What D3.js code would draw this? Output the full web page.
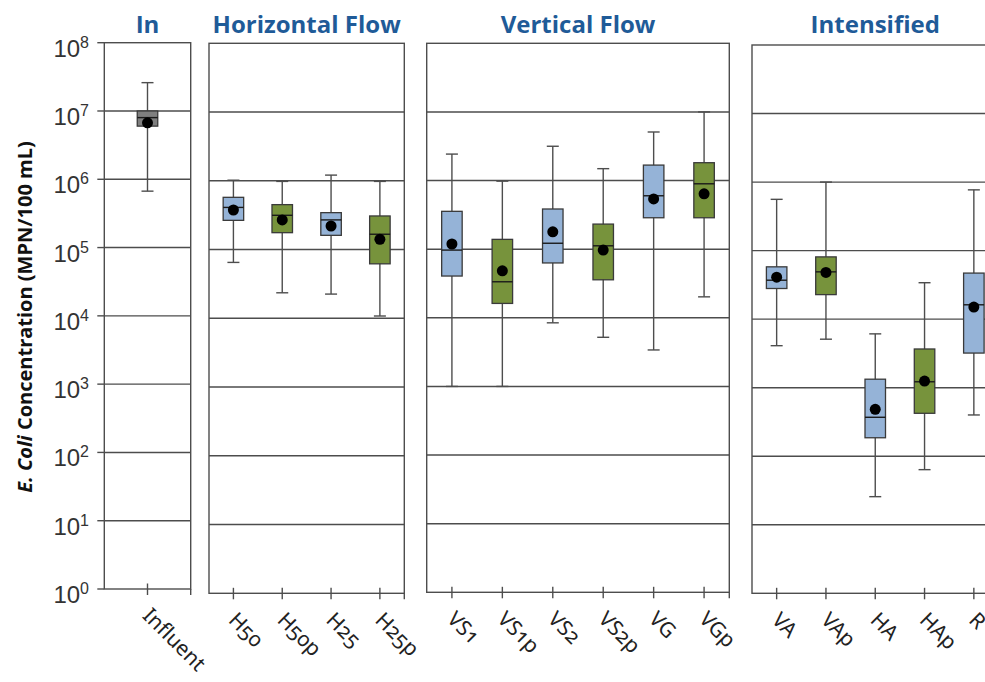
<!DOCTYPE html>
<html>
<head>
<meta charset="utf-8">
<script src="https://cdn.jsdelivr.net/npm/d3@7"></script>
<style>
  html, body { margin: 0; padding: 0; background: #fff; }
  svg { display: block; }
</style>
</head>
<body>
<svg id="chart" width="985" height="682"></svg>
<script>
// E. coli concentrations by treatment system (box = quartiles, whiskers = range, dot = mean)
const panelTitles = ["In", "Horizontal Flow", "Vertical Flow", "Intensified"];
const categories = ["Influent", "H50", "H50p", "H25", "H25p", "VS1", "VS1p", "VS2", "VS2p", "VG", "VGp", "VA", "VAp", "HA", "HAp", "R"];
const panelIndex = [0, 1, 1, 1, 1, 2, 2, 2, 2, 2, 2, 3, 3, 3, 3, 3];
const boxGroup = ["influent", "unplanted", "planted", "unplanted", "planted", "unplanted", "planted", "unplanted", "planted", "unplanted", "planted", "unplanted", "planted", "unplanted", "planted", "unplanted"];

const whiskerHigh = [2.6e7, 1.02e6, 9.8e5, 1.21e6, 9.8e5, 2.43e6, 9.8e5, 3.16e6, 1.49e6, 5.1e6, 1.0e7, 5.6e5, 1.0e6, 6.1e3, 3.4e4, 7.7e5];
const q3 = [1.0e7, 5.75e5, 4.5e5, 3.44e5, 3.08e5, 3.56e5, 1.39e5, 3.85e5, 2.32e5, 1.68e6, 1.82e6, 5.8e4, 8.1e4, 1.33e3, 3.67e3, 4.7e4];
const median = [8.0e6, 4.1e5, 3.15e5, 2.7e5, 1.67e5, 9.7e4, 3.35e4, 1.22e5, 1.12e5, 6.0e5, 8.97e5, 3.7e4, 4.9e4, 370, 1.22e3, 1.62e4];
const q1 = [6.0e6, 2.66e5, 1.76e5, 1.61e5, 6.2e4, 4.06e4, 1.62e4, 6.3e4, 3.58e4, 2.87e5, 2.87e5, 2.8e4, 2.28e4, 186, 423, 3.2e3];
const whiskerLow = [6.7e5, 6.5e4, 2.35e4, 2.25e4, 1.08e4, 1.0e3, 1.0e3, 8.45e3, 5.2e3, 3.4e3, 2.02e4, 4.1e3, 5.1e3, 25.7, 63.7, 400];
const mean = [6.7e6, 3.76e5, 2.7e5, 2.2e5, 1.41e5, 1.19e5, 4.84e4, 1.79e5, 9.7e4, 5.4e5, 6.4e5, 4.1e4, 4.8e4, 484, 1.25e3, 1.5e4];

const yExponents = [0, 1, 2, 3, 4, 5, 6, 7, 8];
const yLabel = ["E. Coli", " Concentration (MPN/100 mL)"];

// ---- layout (pixels) ----
const frames = [
  { x0: 104.3, x1: 190.7, top: 42.7, bottom: 589.0 },
  { x0: 209.0, x1: 404.3, top: 43.3, bottom: 593.3 },
  { x0: 426.7, x1: 729.3, top: 43.3, bottom: 592.3 },
  { x0: 752.0, x1: 998.5, top: 45.0, bottom: 593.3 }
];
const fills = { influent: "#7f7f7f", unplanted: "#95b3d7", planted: "#77933c" };
const lineColor = "#4d4d4d";
const boxW = 20.5, capW = 12, dotR = 5.5;

const svg = d3.select("#chart");

const rows = categories.map((c, i) => ({
  cat: c, panel: panelIndex[i], group: boxGroup[i],
  hi: whiskerHigh[i], q3: q3[i], med: median[i], q1: q1[i], lo: whiskerLow[i], mean: mean[i]
}));

panelTitles.forEach((title, p) => {
  const f = frames[p];
  const cats = rows.filter(r => r.panel === p).map(r => r.cat);
  const x = d3.scaleBand().domain(cats).range([f.x0, f.x1]);
  const y = d3.scaleLog().domain([1, 1e8]).range([f.bottom, f.top]);
  const g = svg.append("g");

  // horizontal gridlines at each decade
  g.selectAll("line.grid")
    .data(yExponents.slice(1, -1))
    .join("line")
    .attr("x1", f.x0).attr("x2", f.x1)
    .attr("y1", e => y(Math.pow(10, e))).attr("y2", e => y(Math.pow(10, e)))
    .attr("stroke", lineColor).attr("stroke-width", 1.4);

  // panel frame
  g.append("rect")
    .attr("x", f.x0).attr("y", f.top)
    .attr("width", f.x1 - f.x0).attr("height", f.bottom - f.top)
    .attr("fill", "none").attr("stroke", lineColor).attr("stroke-width", 1.4);

  // category ticks on the bottom edge
  g.selectAll("line.xtick")
    .data(cats)
    .join("line")
    .attr("x1", d => x(d) + x.bandwidth() / 2).attr("x2", d => x(d) + x.bandwidth() / 2)
    .attr("y1", f.bottom - 5.5).attr("y2", f.bottom + 6)
    .attr("stroke", lineColor).attr("stroke-width", 1.4);
  g.append("line")
    .attr("x1", f.x1).attr("x2", f.x1)
    .attr("y1", f.bottom).attr("y2", f.bottom + 6)
    .attr("stroke", lineColor).attr("stroke-width", 1.4);

  // category labels, rotated 45 degrees
  g.selectAll("text.xlab")
    .data(cats)
    .join("text")
    .attr("transform", d => `translate(${x(d) + x.bandwidth() / 2 - 6},${f.bottom + 28}) rotate(45)`)
    .attr("font-family", "'Noto Sans', sans-serif")
    .style("font-feature-settings", "'onum' 1")
    .attr("font-size", 21)
    .attr("fill", "#222")
    .text(d => d);

  // panel title
  svg.append("text")
    .attr("x", (f.x0 + f.x1) / 2).attr("y", 33)
    .attr("text-anchor", "middle")
    .attr("font-family", "'Open Sans', sans-serif")
    .attr("font-weight", 700)
    .attr("font-size", 24)
    .attr("fill", "#1f5b98")
    .text(title);

  const data = rows.filter(r => r.panel === p);
  const cx = d => x(d.cat) + x.bandwidth() / 2;

  // whiskers
  g.selectAll("line.whisker")
    .data(data).join("line")
    .attr("x1", cx).attr("x2", cx)
    .attr("y1", d => y(d.hi)).attr("y2", d => y(d.lo))
    .attr("stroke", lineColor).attr("stroke-width", 1.4);
  ["hi", "lo"].forEach(k => {
    g.selectAll("line.cap-" + k)
      .data(data).join("line")
      .attr("x1", d => cx(d) - capW / 2).attr("x2", d => cx(d) + capW / 2)
      .attr("y1", d => y(d[k])).attr("y2", d => y(d[k]))
      .attr("stroke", lineColor).attr("stroke-width", 1.4);
  });

  // boxes
  g.selectAll("rect.box")
    .data(data).join("rect")
    .attr("x", d => cx(d) - boxW / 2)
    .attr("y", d => y(d.q3))
    .attr("width", boxW)
    .attr("height", d => y(d.q1) - y(d.q3))
    .attr("fill", d => fills[d.group])
    .attr("stroke", "#3a3a3a").attr("stroke-width", 1.3);

  // medians
  g.selectAll("line.median")
    .data(data).join("line")
    .attr("x1", d => cx(d) - boxW / 2).attr("x2", d => cx(d) + boxW / 2)
    .attr("y1", d => y(d.med)).attr("y2", d => y(d.med))
    .attr("stroke", "#1a1a1a").attr("stroke-width", 1.4);

  // means
  g.selectAll("circle.mean")
    .data(data).join("circle")
    .attr("cx", cx).attr("cy", d => y(d.mean))
    .attr("r", dotR).attr("fill", "#000");

  // y axis on the first panel only
  if (p === 0) {
    const ay = svg.append("g");
    ay.selectAll("line")
      .data(yExponents).join("line")
      .attr("x1", f.x0 - 7).attr("x2", f.x0)
      .attr("y1", e => y(Math.pow(10, e))).attr("y2", e => y(Math.pow(10, e)))
      .attr("stroke", lineColor).attr("stroke-width", 1.4);
    const t = ay.selectAll("text")
      .data(yExponents).join("text")
      .attr("x", 89)
      .attr("y", e => y(Math.pow(10, e)) + 14)
      .attr("text-anchor", "end")
      .attr("font-family", "'Liberation Sans', Arial, sans-serif")
      .attr("font-size", 24)
      .attr("fill", "#333");
    t.append("tspan").text("10");
    t.append("tspan").attr("dy", -9).attr("font-size", 16).text(e => e);
  }
});

// y axis title
const yt = svg.append("text")
  .attr("transform", "translate(32,317) rotate(-90)")
  .attr("text-anchor", "middle")
  .attr("font-family", "'Open Sans', sans-serif")
  .attr("font-weight", 700)
  .attr("font-size", 20)
  .attr("fill", "#111");
yt.append("tspan").attr("font-style", "italic").text(yLabel[0]);
yt.append("tspan").text(yLabel[1]);
</script>
</body>
</html>
